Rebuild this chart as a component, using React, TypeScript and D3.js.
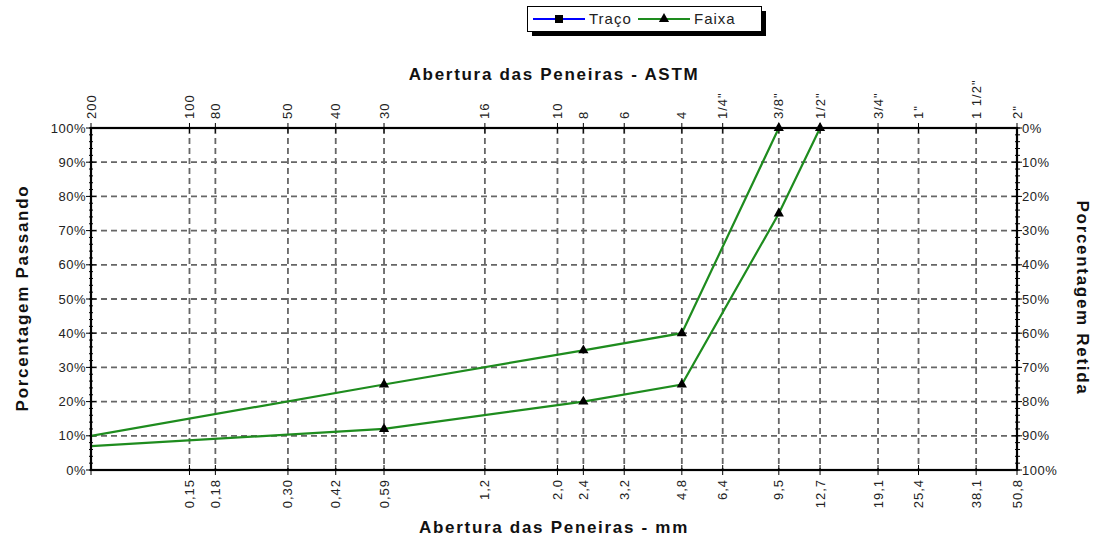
import React, { useRef, useEffect } from 'react';
import * as d3 from 'd3';

// sieve openings (mm) and their ASTM names
const sieveMm = [0.075, 0.15, 0.18, 0.3, 0.42, 0.59, 1.2, 2.0, 2.4, 3.2, 4.8, 6.4, 9.5, 12.7, 19.1, 25.4, 38.1, 50.8];
const astmLabels = ['200', '100', '80', '50', '40', '30', '16', '10', '8', '6', '4', '1/4"', '3/8"', '1/2"', '3/4"', '1"', '1 1/2"', '2"'];
const mmLabels = ['', '0,15', '0,18', '0,30', '0,42', '0,59', '1,2', '2,0', '2,4', '3,2', '4,8', '6,4', '9,5', '12,7', '19,1', '25,4', '38,1', '50,8'];

// Faixa (upper / lower limits), % passing
const faixaSup = [
  { mm: 0.075, p: 10, mark: false },
  { mm: 0.59, p: 25, mark: true },
  { mm: 2.4, p: 35, mark: true },
  { mm: 4.8, p: 40, mark: true },
  { mm: 9.5, p: 100, mark: true },
];
const faixaInf = [
  { mm: 0.075, p: 7, mark: false },
  { mm: 0.59, p: 12, mark: true },
  { mm: 2.4, p: 20, mark: true },
  { mm: 4.8, p: 25, mark: true },
  { mm: 9.5, p: 75, mark: true },
  { mm: 12.7, p: 100, mark: true },
];

const pctTicks = d3.range(0, 101, 10);

const App = () => {
  const svgRef = useRef<SVGSVGElement | null>(null);

  useEffect(() => {
    const svg = d3.select(svgRef.current);
    svg.selectAll('*').remove();

    const left = 91, right = 1017, top = 128, bottom = 470;
    const font = 'Liberation Sans, Arial, sans-serif';
    const green = '#1e8c1e';

    const x = d3.scaleLog().domain([0.075, 50.8]).range([left, right]);
    const y = d3.scaleLinear().domain([0, 100]).range([bottom, top]);

    svg.append('defs').append('clipPath').attr('id', 'plot')
      .append('rect').attr('x', left).attr('y', top).attr('width', right - left).attr('height', bottom - top);

    // grid
    const grid = svg.append('g').attr('stroke', '#666').attr('stroke-width', 1.8).attr('stroke-dasharray', '6,4');
    grid.selectAll('.h').data(pctTicks.slice(1, -1)).enter().append('line')
      .attr('x1', left).attr('x2', right).attr('y1', d => y(d)).attr('y2', d => y(d));
    grid.selectAll('.v').data(sieveMm.slice(1, -1)).enter().append('line')
      .attr('x1', d => x(d)).attr('x2', d => x(d)).attr('y1', top).attr('y2', bottom);

    // minor ticks on left and right axes
    const minor = d3.range(0, 101, 2);
    const ticks = svg.append('g').attr('stroke', '#000').attr('stroke-width', 1);
    ticks.selectAll('.ml').data(minor).enter().append('line')
      .attr('x1', left - 2).attr('x2', left + 2).attr('y1', d => y(d)).attr('y2', d => y(d));
    ticks.selectAll('.mr').data(minor).enter().append('line')
      .attr('x1', right - 2).attr('x2', right + 3).attr('y1', d => y(d)).attr('y2', d => y(d));
    ticks.selectAll('.Ml').data(pctTicks).enter().append('line')
      .attr('x1', left - 5).attr('x2', left + 5).attr('y1', d => y(d)).attr('y2', d => y(d));
    ticks.selectAll('.Mr').data(pctTicks).enter().append('line')
      .attr('x1', right - 5).attr('x2', right + 5).attr('y1', d => y(d)).attr('y2', d => y(d));
    ticks.selectAll('.tt').data(sieveMm).enter().append('line')
      .attr('x1', d => x(d)).attr('x2', d => x(d)).attr('y1', top - 5).attr('y2', top + 5);
    ticks.selectAll('.tb').data(sieveMm).enter().append('line')
      .attr('x1', d => x(d)).attr('x2', d => x(d)).attr('y1', bottom - 5).attr('y2', bottom + 5);

    // lines
    const line = d3.line<{ mm: number; p: number }>().x(d => x(d.mm)).y(d => y(d.p));
    [faixaSup, faixaInf].forEach(s => {
      svg.append('path').datum(s).attr('d', line).attr('fill', 'none')
        .attr('stroke', green).attr('stroke-width', 2.2).attr('clip-path', 'url(#plot)');
    });

    // plot border
    svg.append('rect').attr('x', left).attr('y', top).attr('width', right - left).attr('height', bottom - top)
      .attr('fill', 'none').attr('stroke', '#000').attr('stroke-width', 2.2);

    // markers
    const tri = d3.symbol().type(d3.symbolTriangle).size(45);
    [faixaSup, faixaInf].forEach(s => {
      svg.append('g').selectAll('path').data(s.filter(d => d.mark)).enter().append('path')
        .attr('d', tri).attr('fill', '#000')
        .attr('transform', d => `translate(${x(d.mm)},${y(d.p)})`);
    });

    // y labels
    svg.append('g').selectAll('text').data(pctTicks).enter().append('text')
      .attr('x', left - 5).attr('y', d => y(d)).attr('dy', '0.35em').attr('text-anchor', 'end')
      .style('font-family', font).style('font-size', '13px').style('letter-spacing', '0.5px').attr('fill', '#222')
      .text(d => `${d}%`);
    svg.append('g').selectAll('text').data(pctTicks).enter().append('text')
      .attr('x', right + 5).attr('y', d => y(d)).attr('dy', '0.35em').attr('text-anchor', 'start')
      .style('font-family', font).style('font-size', '13px').style('letter-spacing', '0.5px').attr('fill', '#222')
      .text(d => `${100 - d}%`);

    // top (ASTM) labels
    svg.append('g').selectAll('text').data(sieveMm).enter().append('text')
      .attr('transform', d => `translate(${x(d) + 4.5},${top - 9}) rotate(-90)`)
      .attr('text-anchor', 'start')
      .style('font-family', font).style('font-size', '13px').style('letter-spacing', '1px').attr('fill', '#222')
      .text((d, i) => astmLabels[i]);

    // bottom (mm) labels
    svg.append('g').selectAll('text').data(sieveMm).enter().append('text')
      .attr('transform', d => `translate(${x(d) + 4.5},${bottom + 9}) rotate(-90)`)
      .attr('text-anchor', 'end')
      .style('font-family', font).style('font-size', '13px').style('letter-spacing', '1px').attr('fill', '#222')
      .text((d, i) => mmLabels[i]);

    // titles
    const title = (t: string, tx: number, ty: number, rot: number) =>
      svg.append('text').attr('transform', `translate(${tx},${ty}) rotate(${rot})`)
        .attr('text-anchor', 'middle').style('font-family', font).style('font-size', '17px')
        .style('letter-spacing', '1.7px').style('font-weight', 'bold').attr('fill', '#111').text(t);
    title('Abertura das Peneiras - ASTM', 554, 80, 0);
    title('Abertura das Peneiras - mm', 554, 533, 0);
    title('Porcentagem Passando', 28, 298, -90);
    title('Porcentagem Retida', 1077, 298, 90);

    // legend
    const lg = svg.append('g');
    lg.append('rect').attr('x', 532).attr('y', 11).attr('width', 234).attr('height', 25).attr('fill', '#000');
    lg.append('rect').attr('x', 527.5).attr('y', 6.5).attr('width', 234).attr('height', 25)
      .attr('fill', '#fff').attr('stroke', '#000').attr('stroke-width', 1);
    lg.append('line').attr('x1', 533).attr('x2', 585).attr('y1', 19).attr('y2', 19).attr('stroke', '#0000ff').attr('stroke-width', 2);
    lg.append('rect').attr('x', 555).attr('y', 15).attr('width', 8).attr('height', 8).attr('fill', '#000');
    lg.append('text').attr('x', 589).attr('y', 24).style('font-family', font).style('font-size', '15px')
      .style('letter-spacing', '1px').attr('fill', '#222').text('Traço');
    lg.append('line').attr('x1', 638).attr('x2', 690).attr('y1', 19).attr('y2', 19).attr('stroke', green).attr('stroke-width', 2);
    lg.append('path').attr('d', tri).attr('fill', '#000').attr('transform', 'translate(664,19)');
    lg.append('text').attr('x', 694).attr('y', 24).style('font-family', font).style('font-size', '15px')
      .style('letter-spacing', '1px').attr('fill', '#222').text('Faixa');
  }, []);

  return (
    <div style={{ position: 'absolute', left: 0, top: 0 }}>
      <svg ref={svgRef} width={1098} height={538} style={{ display: 'block', background: '#fff' }} />
    </div>
  );
};

export default App;
